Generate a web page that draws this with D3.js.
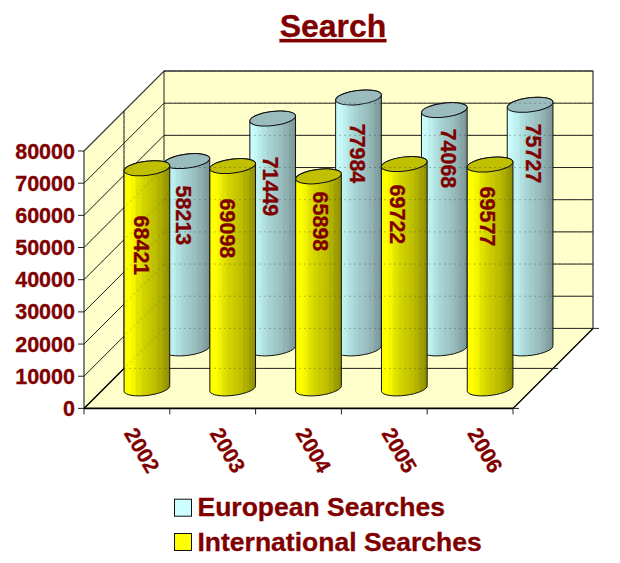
<!DOCTYPE html>
<html>
<head>
<meta charset="utf-8">
<script src="https://cdn.jsdelivr.net/npm/d3@7"></script>
<style>
  html, body { margin: 0; padding: 0; background: #fff; }
  text { font-family: "Liberation Sans", Arial, sans-serif; font-weight: bold; fill: #800000; stroke: #800000; stroke-width: 0.3px; }
</style>
</head>
<body>
<svg id="chart" width="620" height="563"></svg>
<script>
// data
const years = ["2002", "2003", "2004", "2005", "2006"];
const seriesNames = ["International Searches", "European Searches"];
const international = [68421, 69098, 65898, 69722, 69577];
const european = [58213, 71449, 77984, 74068, 75727];
const valueTicks = [0, 10000, 20000, 30000, 40000, 50000, 60000, 70000, 80000];

// hand placed data labels in the original, px from the cylinder centre / base
const intlLabelPos = [[-6, -143], [-6, -160], [1, -167], [-7, -174], [-3, -172]];
const euroLabelPos = [[-4, -133], [-3, -162], [-2, -195], [3.5, -190], [3, -195]];

const svg = d3.select("#chart");

// plot box: front face plus a fixed 3d offset up and to the right
const boxLeft = 84, boxRight = 513, boxBottom = 408.4, boxTop = 151, depth = 80;

const x = d3.scaleBand().domain(years).range([boxLeft, boxRight]);
const y = d3.scaleLinear().domain([0, 80000]).range([boxBottom, boxTop]);
const z = d3.scaleBand().domain(seriesNames).range([0, depth]);

// walls
const wallFill = "#ffffcc";
svg.append("path")
  .attr("d", `M${boxLeft},${boxBottom}L${boxLeft},${boxTop}L${boxLeft + depth},${boxTop - depth}L${boxLeft + depth},${boxBottom - depth}Z`)
  .attr("fill", wallFill);
svg.append("path")
  .attr("d", `M${boxLeft + depth},${boxBottom - depth}L${boxLeft + depth},${boxTop - depth}L${boxRight + depth},${boxTop - depth}L${boxRight + depth},${boxBottom - depth}Z`)
  .attr("fill", wallFill);
svg.append("path")
  .attr("d", `M${boxLeft},${boxBottom}L${boxLeft + depth},${boxBottom - depth}L${boxRight + depth},${boxBottom - depth}L${boxRight},${boxBottom}Z`)
  .attr("fill", wallFill);

function drawGrid(g, dashed) {
  valueTicks.forEach((v) => {
    g.append("line")
      .attr("x1", boxLeft).attr("y1", y(v))
      .attr("x2", boxLeft + depth).attr("y2", y(v) - depth);
    g.append("line")
      .attr("x1", boxLeft + depth).attr("y1", y(v) - depth)
      .attr("x2", boxRight + depth).attr("y2", y(v) - depth);
  });
  // middle of the depth, on the side wall and on the floor
  g.append("line")
    .attr("x1", boxLeft + depth / 2).attr("y1", boxTop - depth / 2)
    .attr("x2", boxLeft + depth / 2).attr("y2", boxBottom - depth / 2);
  g.append("line")
    .attr("x1", boxLeft + depth / 2).attr("y1", boxBottom - depth / 2)
    .attr("x2", boxRight + depth / 2 + 5).attr("y2", boxBottom - depth / 2);
  if (dashed) g.selectAll("line").attr("stroke-dasharray", "2,3");
}

const grid = svg.append("g").attr("stroke", "#222").attr("stroke-width", 1).attr("fill", "none");
drawGrid(grid, false);

// outline of the box
svg.append("path")
  .attr("d", `M${boxLeft},${boxBottom}L${boxLeft},${boxTop}L${boxLeft + depth},${boxTop - depth}L${boxRight + depth},${boxTop - depth}L${boxRight + depth},${boxBottom - depth}`)
  .attr("fill", "none").attr("stroke", "#333").attr("stroke-width", 1.2);
svg.append("path")
  .attr("d", `M${boxLeft + depth},${boxTop - depth}L${boxLeft + depth},${boxBottom - depth}`)
  .attr("fill", "none").attr("stroke", "#222").attr("stroke-width", 1);
svg.append("path")
  .attr("d", `M${boxLeft},${boxBottom}L${boxLeft + depth},${boxBottom - depth}M${boxRight},${boxBottom}L${boxRight + depth},${boxBottom - depth}`)
  .attr("fill", "none").attr("stroke", "#000").attr("stroke-width", 1.4);
svg.append("line")
  .attr("x1", boxLeft).attr("y1", boxBottom).attr("x2", boxRight).attr("y2", boxBottom)
  .attr("stroke", "#000").attr("stroke-width", 1.6);

// ticks
const ticks = svg.append("g").attr("stroke", "#222").attr("stroke-width", 1);
valueTicks.forEach((v) => {
  ticks.append("line").attr("x1", boxLeft - 6).attr("x2", boxLeft).attr("y1", y(v)).attr("y2", y(v));
});
years.concat("end").forEach((d, i) => {
  const px = boxLeft + i * x.step();
  ticks.append("line").attr("x1", px).attr("x2", px).attr("y1", boxBottom).attr("y2", boxBottom + 6);
});
ticks.append("line").attr("x1", boxRight).attr("x2", boxRight + 6).attr("y1", boxBottom).attr("y2", boxBottom);
ticks.append("line").attr("x1", boxRight + depth).attr("x2", boxRight + depth + 6).attr("y1", boxBottom - depth).attr("y2", boxBottom - depth);

// striped cylinder shading
const defs = svg.append("defs");
function stripes(id, colors) {
  const ramp = d3.piecewise(d3.interpolateRgb, colors);
  const grad = defs.append("linearGradient").attr("id", id);
  const n = 26;
  d3.range(n).forEach((i) => {
    const wobble = i % 3 === 1 ? 0.03 : 0;
    const c = ramp(Math.min(1, i / (n - 1) + wobble));
    grad.append("stop").attr("offset", i / n).attr("stop-color", c);
    grad.append("stop").attr("offset", (i + 1) / n).attr("stop-color", c);
  });
}
stripes("sideIntl", ["#ffff00", "#ffff00", "#e6e600", "#d4d400", "#c8c800", "#bcbc00", "#a8a800", "#8f8f00"]);
stripes("sideEuro", ["#ccffff", "#c4f6f6", "#b4e4e4", "#a8d4d4", "#a0c8c8", "#98bcbc", "#8cacac", "#7a9696"]);

const rx = 23, ry = 7, tilt = -7;
const rad = tilt * Math.PI / 180;
const t0 = Math.atan((ry / rx) * Math.tan(-rad));
const halfW = rx * Math.cos(t0) * Math.cos(rad) + ry * Math.sin(t0) * Math.sin(-rad);
const edgeY = rx * Math.cos(t0) * Math.sin(-rad) + ry * Math.sin(t0) * Math.cos(rad);

function drawCylinder(g, value, year, series, side, cap) {
  const cx = x(year) + x.bandwidth() / 2 + z(series) + z.bandwidth() / 2;
  const base = y(0) - z(series) - z.bandwidth() / 2;
  const topY = y(value) - z(series) - z.bandwidth() / 2;
  const arc = `A${rx},${ry} ${tilt} 1 0`;
  g.append("path")
    .attr("d", `M${cx - halfW},${topY + edgeY}L${cx - halfW},${base + edgeY}${arc} ${cx + halfW},${base - edgeY}L${cx + halfW},${topY - edgeY}${arc} ${cx - halfW},${topY + edgeY}Z`)
    .attr("fill", `url(#${side})`).attr("stroke", "#111").attr("stroke-width", 1);
  g.append("ellipse")
    .attr("rx", rx).attr("ry", ry)
    .attr("transform", `translate(${cx},${topY}) rotate(${tilt})`)
    .attr("fill", cap).attr("stroke", "#111").attr("stroke-width", 1);
}

const bars = svg.append("g");
years.forEach((d, i) => drawCylinder(bars, european[i], d, seriesNames[1], "sideEuro", "#9abcbc"));
years.forEach((d, i) => drawCylinder(bars, international[i], d, seriesNames[0], "sideIntl", "#c0c000"));

// the grid shows through the cylinders as faint dots
const dots = svg.append("g").attr("stroke", "#333").attr("stroke-opacity", 0.3).attr("fill", "none");
drawGrid(dots, true);

// data labels
function drawLabels(values, series, pos) {
  values.forEach((v, i) => {
    const cx = x(years[i]) + x.bandwidth() / 2 + z(series) + z.bandwidth() / 2;
    const base = y(0) - z(series) - z.bandwidth() / 2;
    svg.append("text")
      .attr("transform", `translate(${cx + pos[i][0]},${base + pos[i][1]}) rotate(90)`)
      .attr("text-anchor", "middle").attr("dominant-baseline", "central")
      .attr("font-size", 21.5).text(v);
  });
}
drawLabels(european, seriesNames[1], euroLabelPos);
drawLabels(international, seriesNames[0], intlLabelPos);

// value axis labels
valueTicks.forEach((v) => {
  svg.append("text")
    .attr("x", 75).attr("y", y(v) + 7.5)
    .attr("text-anchor", "end").attr("font-size", 21.5).text(v);
});

// year labels
years.forEach((d) => {
  svg.append("text")
    .attr("transform", `translate(${x(d) + x.bandwidth() / 2 + 14.6},450.5) rotate(60)`)
    .attr("text-anchor", "middle").attr("dominant-baseline", "central")
    .attr("font-size", 21.5).text(d);
});

// title
svg.append("text")
  .attr("x", 333).attr("y", 37)
  .attr("text-anchor", "middle").attr("font-size", 32)
  .attr("text-decoration", "underline").text("Search");

// legend
const legend = [
  { name: seriesNames[1], fill: "#ccffff", y: 507.7 },
  { name: seriesNames[0], fill: "#ffff00", y: 542 },
];
legend.forEach((l) => {
  svg.append("rect")
    .attr("x", 174.5).attr("y", l.y - 8.5).attr("width", 17).attr("height", 17)
    .attr("fill", l.fill).attr("stroke", "#111").attr("stroke-width", 1);
  svg.append("text")
    .attr("x", 197.5).attr("y", l.y + 8.6)
    .attr("font-size", 26.5).text(l.name);
});
</script>
</body>
</html>
